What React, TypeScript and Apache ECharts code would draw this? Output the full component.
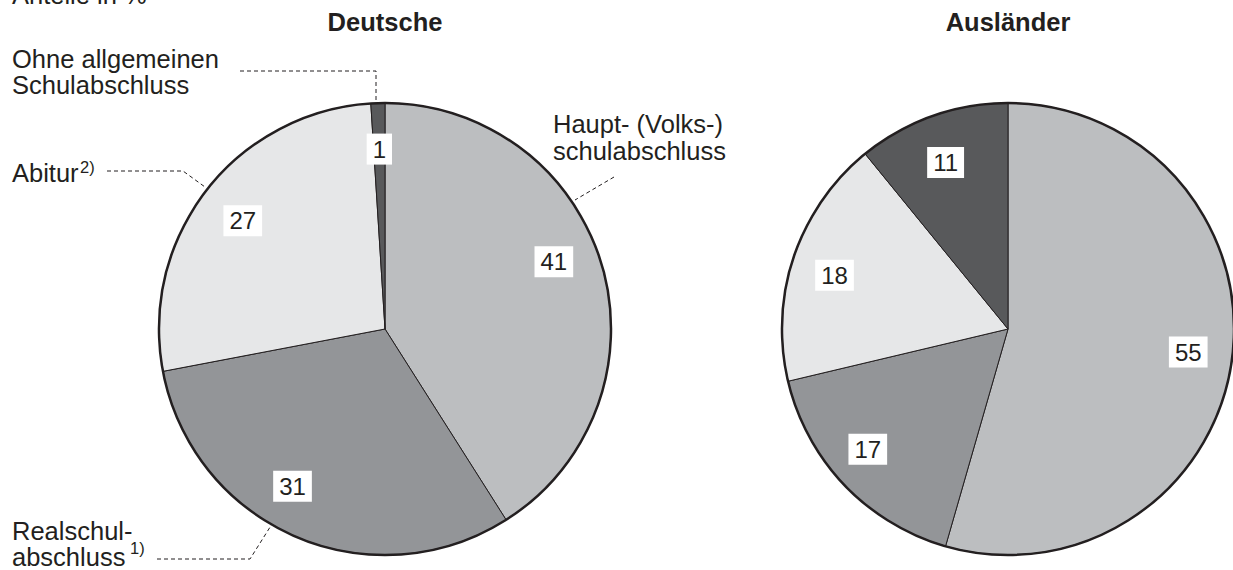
import React, { useEffect, useRef } from "react";
import * as echarts from "echarts";

const categories = [
  "Haupt- (Volks-) schulabschluss",
  "Realschulabschluss",
  "Abitur",
  "Ohne allgemeinen Schulabschluss",
];
const deutscheValues = [41, 31, 27, 1];
const auslaenderValues = [55, 17, 18, 11];
const pieTitles = ["Deutsche", "Ausländer"];
const sliceColors = ["#bcbec0", "#939598", "#e6e7e8", "#58595b"];

const FONT = "'Liberation Sans', Arial, Helvetica, sans-serif";
const INK = "#231f20";
const R = 226;
const centers: [number, number][] = [
  [385, 329],
  [1008, 329],
];
// small per-slice nudges of the value boxes (layout only)
const labelNudges: number[][][] = [
  [
    [-4, -17],
    [-21, -8],
    [0, 2],
    [0, 0],
  ],
  [
    [2, -2],
    [-10, -4],
    [-3, 4],
    [-2, 3],
  ],
];

function buildSeries(values: number[], center: [number, number], pieIndex: number) {
  const data = categories.map((name, i) => ({ name, value: values[i] }));
  const labelData = data.map((d, i) => ({
    ...d,
    label: { offset: labelNudges[pieIndex][i] },
  }));
  return [
    {
      type: "pie",
      center,
      radius: [0, R],
      startAngle: 90,
      clockwise: true,
      silent: true,
      label: { show: false },
      labelLine: { show: false },
      emphasis: { disabled: true },
      itemStyle: {
        color: (p: any) => sliceColors[p.dataIndex],
        borderColor: INK,
        borderWidth: 1,
      },
      data,
      z: 2,
    },
    {
      type: "pie",
      center,
      radius: [157, 197],
      startAngle: 90,
      clockwise: true,
      silent: true,
      emphasis: { disabled: true },
      itemStyle: { color: "rgba(0,0,0,0)", borderWidth: 0 },
      labelLine: { show: false },
      label: {
        show: true,
        position: "inside",
        formatter: "{c}",
        color: INK,
        fontSize: 24,
        fontFamily: FONT,
        backgroundColor: "#ffffff",
        padding: [4, 6, 3, 6],
      },
      data: labelData,
      z: 4,
    },
    {
      type: "pie",
      center,
      radius: [0, R],
      silent: true,
      emphasis: { disabled: true },
      label: { show: false },
      labelLine: { show: false },
      itemStyle: { color: "rgba(0,0,0,0)", borderColor: INK, borderWidth: 2.5 },
      data: [{ name: "outline", value: 1 }],
      z: 3,
    },
  ];
}

function txt(text: string, x: number, y: number, fontSize = 25.5, extra: any = {}) {
  return {
    type: "text",
    x,
    y,
    silent: true,
    style: {
      text,
      fill: INK,
      fontSize,
      fontFamily: FONT,
      verticalAlign: "middle",
      align: "left",
      ...extra,
    },
  };
}

function dash(points: number[][]) {
  return {
    type: "polyline",
    silent: true,
    shape: { points },
    style: { stroke: INK, lineWidth: 1, lineDash: [4, 3], fill: "none" },
  };
}

export default function App() {
  const ref = useRef<HTMLDivElement>(null);
  useEffect(() => {
    document.body.style.margin = "0";
    const chart = echarts.init(ref.current!, null, { renderer: "svg" });
    chart.setOption({
      animation: false,
      backgroundColor: "#ffffff",
      series: [
        ...buildSeries(deutscheValues, centers[0], 0),
        ...buildSeries(auslaenderValues, centers[1], 1),
      ],
      graphic: [
        txt("Anteile in %", 12, -5),
        txt(pieTitles[0], centers[0][0], 22, 25.5, { fontWeight: "bold", align: "center" }),
        txt(pieTitles[1], centers[1][0], 22, 25.5, { fontWeight: "bold", align: "center" }),
        txt("Ohne allgemeinen\nSchulabschluss", 12, 72, 25.5, { lineHeight: 26 }),
        txt("Abitur", 12, 173),
        txt("2)", 80, 167, 16.5),
        txt("Realschul-\nabschluss", 12, 544, 25.5, { lineHeight: 26 }),
        txt("1)", 130, 548, 16.5),
        txt("Haupt- (Volks-)\nschulabschluss", 553, 137.5, 25.5, { lineHeight: 27 }),
        dash([
          [240, 71],
          [376, 71],
          [376, 101],
        ]),
        dash([
          [107, 171],
          [183, 171],
          [205, 187],
        ]),
        dash([
          [157, 559],
          [250, 559],
          [272, 524],
        ]),
        dash([
          [614, 177],
          [575, 200],
        ]),
      ],
    });
    return () => chart.dispose();
  }, []);
  return (
    <div
      ref={ref}
      style={{ position: "fixed", left: 0, top: 0, width: 1233, height: 570 }}
    />
  );
}
